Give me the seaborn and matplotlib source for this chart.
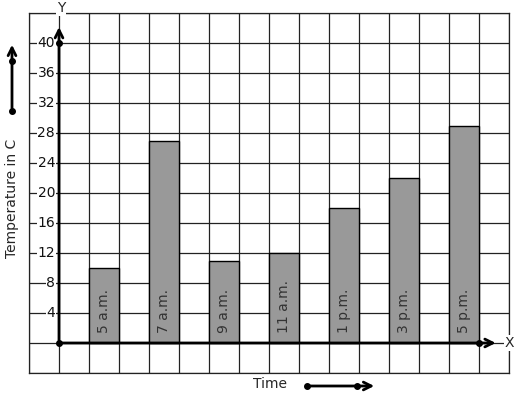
import matplotlib
matplotlib.use("Agg")
import matplotlib.pyplot as plt
import seaborn as sns
import pandas as pd
import numpy as np

times = ["5 a.m.", "7 a.m.", "9 a.m.", "11 a.m.", "1 p.m.", "3 p.m.", "5 p.m."]
temps = [10, 27, 11, 12, 18, 22, 29]
y_ticks = [4, 8, 12, 16, 20, 24, 28, 32, 36, 40]

df = pd.DataFrame({"Time": times, "Temperature": temps})

sns.set_style("white")
plt.rcParams['font.family'] = ['DejaVu Sans']

W, H = 517, 399
fig = plt.figure(figsize=(W / 100, H / 100), dpi=100)
ax = fig.add_axes([29 / W, (H - 373) / H, 480 / W, 360 / H])

sns.barplot(data=df, x="Time", y="Temperature", color="#999999", width=0.5,
            edgecolor="black", linewidth=1.0, saturation=1, ax=ax, zorder=3)

# grid units: one category = 2 grid cells, category i centred on cell 1.5+2i
def gx(u):
    return (u - 1.5) / 2.0

ax.set_xlim(gx(-1), gx(15))
ax.set_ylim(-4, 44)
ax.set_xticks([gx(u) for u in range(-1, 16)])
ax.set_yticks(np.arange(-4, 45, 4))
ax.tick_params(length=0, labelbottom=False, labelleft=False)
ax.grid(True, color="#222222", linewidth=0.9, zorder=0)
ax.set_axisbelow(True)
ax.set_xlabel("")
ax.set_ylabel("")
for s in ax.spines.values():
    s.set_color("#222222")
    s.set_linewidth(0.9)

# bar labels inside bars
for i, t in enumerate(times):
    ax.text(i, 1.3, t, rotation=90, ha="center", va="bottom", fontsize=10,
            color="#333333", zorder=5)

# y tick labels inside plot area
for v in y_ticks:
    ax.text(gx(-0.13), v, str(v), ha="right", va="center", fontsize=10,
            color="#111111", zorder=4,
            bbox=dict(boxstyle="square,pad=0.05", fc="white", ec="none"))

# axes lines with arrows
ax.annotate("", xy=(gx(14.65), 0), xytext=(gx(0), 0),
            arrowprops=dict(arrowstyle="->", lw=2, color="black", mutation_scale=14),
            zorder=6)
ax.annotate("", xy=(gx(0), 42.5), xytext=(gx(0), 0),
            arrowprops=dict(arrowstyle="->", lw=2, color="black", mutation_scale=14),
            zorder=6)
ax.plot([gx(0), gx(0), gx(14)], [0, 40, 0], "o", color="black", ms=4, zorder=7)
ax.text(gx(15.0), 0, "X", ha="center", va="center", fontsize=10, zorder=8,
        bbox=dict(boxstyle="square,pad=0.05", fc="white", ec="none"))
ax.text(gx(0.07), 44.6, "Y", ha="center", va="center", fontsize=10, zorder=8,
        clip_on=False,
        bbox=dict(boxstyle="square,pad=0.05", fc="white", ec="none"))

# outer labels and arrows (figure pixel positions)
def fx(x):
    return x / W

def fy(y):
    return 1 - y / H

fig.text(fx(12), fy(198), "Temperature in C", rotation=90, ha="center",
         va="center", fontsize=10)
fig.text(fx(270), fy(384), "Time", ha="center", va="center", fontsize=10)

fig.add_artist(matplotlib.patches.FancyArrowPatch(
    (fx(12), fy(111)), (fx(12), fy(42)), transform=fig.transFigure,
    arrowstyle="->", lw=2, color="black", mutation_scale=14))
fig.add_artist(matplotlib.lines.Line2D([fx(12), fx(12)], [fy(111), fy(61)],
               transform=fig.transFigure, ls="none", marker="o", ms=4, color="black"))
fig.add_artist(matplotlib.patches.FancyArrowPatch(
    (fx(307), fy(386)), (fx(377), fy(386)), transform=fig.transFigure,
    arrowstyle="->", lw=2, color="black", mutation_scale=14))
fig.add_artist(matplotlib.lines.Line2D([fx(307), fx(357)], [fy(386), fy(386)],
               transform=fig.transFigure, ls="none", marker="o", ms=4, color="black"))

fig.savefig("out.png", dpi=100, facecolor="white")
